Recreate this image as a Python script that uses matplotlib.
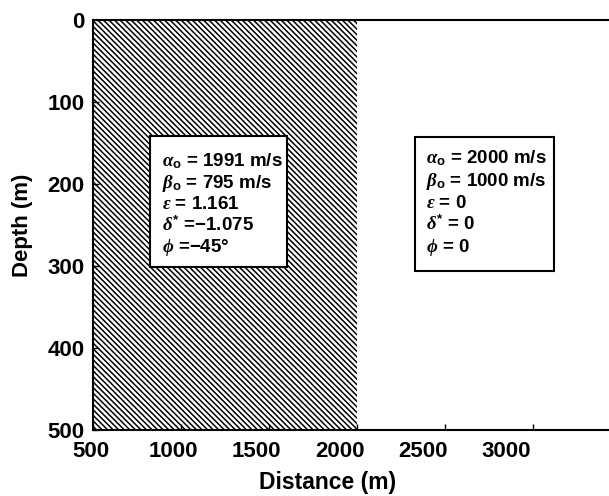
import matplotlib
matplotlib.use("Agg")
import matplotlib.pyplot as plt
from matplotlib.patches import Rectangle
from matplotlib.transforms import ScaledTranslation

# ---- data ----
x_ticks = [500, 1000, 1500, 2000, 2500, 3000]
y_ticks = [0, 100, 200, 300, 400, 500]
x_range = (500, 3500)
y_range = (0, 500)
hatched_layer_x = (500, 2000)   # anisotropic medium
left_lines = [r"$\alpha_{\rm o}$ = 1991 m/s",
              r"$\beta_{\rm o}$ = 795 m/s",
              r"$\varepsilon$ = 1.161",
              r"$\delta^{*}$ =−1.075",
              r"$\phi$ =−45°"]
right_lines = [r"$\alpha_{\rm o}$ = 2000 m/s",
               r"$\beta_{\rm o}$ = 1000 m/s",
               r"$\varepsilon$ = 0",
               r"$\delta^{*}$ = 0",
               r"$\phi$ = 0"]

plt.rcParams['font.family'] = ['Liberation Sans', 'DejaVu Sans']
plt.rcParams['mathtext.fontset'] = 'custom'
plt.rcParams['mathtext.it'] = 'Liberation Serif:italic:bold'
plt.rcParams['mathtext.rm'] = 'Liberation Sans:bold'
plt.rcParams['mathtext.bf'] = 'Liberation Sans:bold'
plt.rcParams['hatch.linewidth'] = 1.1

W, H = 609, 496
fig = plt.figure(figsize=(W / 100, H / 100), dpi=100)
left_px, right_px, top_px, bot_px = 93, 621, 20, 430
ax = fig.add_axes([left_px / W, (H - bot_px) / H, (right_px - left_px) / W, (bot_px - top_px) / H])

ax.set_xlim(*x_range)
ax.set_ylim(y_range[1], y_range[0])

ax.add_patch(Rectangle((hatched_layer_x[0], y_range[0]),
                       hatched_layer_x[1] - hatched_layer_x[0],
                       y_range[1] - y_range[0],
                       facecolor='white', edgecolor='black', hatch='\\' * 6,
                       linewidth=0, zorder=1))

for s in ax.spines.values():
    s.set_linewidth(1.5)
ax.spines['right'].set_visible(False)

ax.set_xticks(x_ticks)
ax.set_yticks(y_ticks)
ax.tick_params(direction='in', length=4, width=1.0, labelsize=16)
ax.tick_params(axis='x', pad=8)
ax.tick_params(axis='y', pad=6)
for lab in ax.get_xticklabels() + ax.get_yticklabels():
    lab.set_fontweight('bold')

# the original's tick labels drift slightly left of their ticks
label_shift_px = [-2, -8, -13, -17, -22, -27]
for lab, dx in zip(ax.get_xticklabels(), label_shift_px):
    lab.set_transform(lab.get_transform() + ScaledTranslation(dx / 100, 0, fig.dpi_scale_trans))

ax.set_xlabel('Distance (m)', fontsize=16.5, fontweight='bold')
ax.set_ylabel('Depth (m)', fontsize=16, fontweight='bold')
ax.xaxis.set_label_coords(0.445, -0.1)
ax.yaxis.set_label_coords(-0.113, 0.5)


def text_box(x0, x1, y0, y1, tx, ty0, dy, lines):
    ax.add_patch(Rectangle((x0, y0), x1 - x0, y1 - y0, facecolor='white',
                           edgecolor='black', linewidth=1.5, zorder=3))
    for i, ln in enumerate(lines):
        ax.text(tx, ty0 + i * dy, ln, fontsize=13.5, fontweight='bold',
                ha='left', va='baseline', zorder=4)


text_box(822, 1602, 141, 301, 890, 178, 26.3, left_lines)
text_box(2331, 3122, 143, 306, 2393, 175, 27, right_lines)

fig.savefig('out.png', dpi=100)
